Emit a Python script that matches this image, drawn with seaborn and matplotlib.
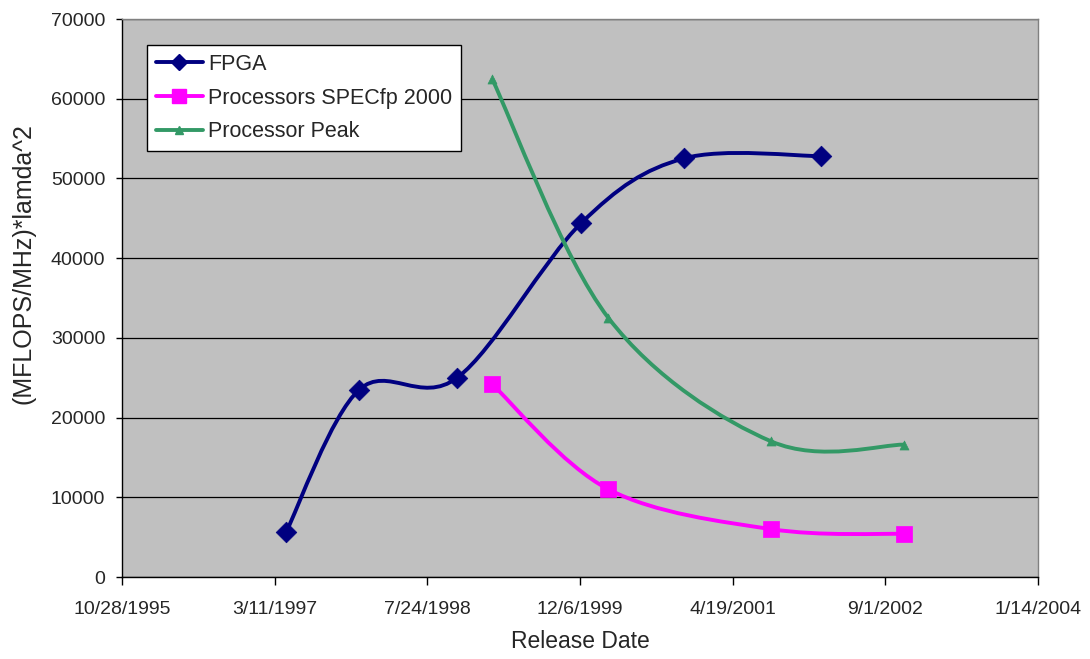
import numpy as np
import pandas as pd
import matplotlib
matplotlib.use("Agg")
import matplotlib.pyplot as plt
import matplotlib.dates as mdates
from matplotlib.path import Path
from matplotlib.patches import PathPatch
from matplotlib.lines import Line2D
import seaborn as sns

# values
fpga_dates = ["1997-04-17", "1997-12-13", "1998-10-30", "1999-12-10", "2000-11-09", "2002-02-01"]
fpga_vals = [5600, 23500, 25000, 44400, 52500, 52800]
proc_dates = ["1999-02-21", "2000-03-08", "2001-08-24", "2002-11-01"]
specfp_vals = [24200, 11000, 6000, 5400]
peak_vals = [62500, 32500, 17000, 16600]
x_tick_labels = ["10/28/1995", "3/11/1997", "7/24/1998", "12/6/1999", "4/19/2001", "9/1/2002", "1/14/2004"]
y_ticks = [0, 10000, 20000, 30000, 40000, 50000, 60000, 70000]

sns.set_style("white")
plt.rcParams["font.family"] = ["Liberation Sans", "DejaVu Sans"]

fig = plt.figure(figsize=(10.9, 6.59), dpi=100)
ax = fig.add_axes([122 / 1090, 1 - 577 / 659, 916 / 1090, 558 / 659])
ax.set_facecolor("#C0C0C0")


def smooth_path(xs, ys):
    # Excel style smoothed line: Catmull-Rom segments as cubic beziers
    pts = np.column_stack([xs, ys]).astype(float)
    verts = [pts[0]]
    codes = [Path.MOVETO]
    n = len(pts)
    for i in range(n - 1):
        p0 = pts[max(i - 1, 0)]
        p1 = pts[i]
        p2 = pts[i + 1]
        p3 = pts[min(i + 2, n - 1)]
        c1 = p1 + (p2 - p0) / 6
        c2 = p2 - (p3 - p1) / 6
        verts += [c1, c2, p2]
        codes += [Path.CURVE4] * 3
    return Path(verts, codes)


series = [
    ("FPGA", fpga_dates, fpga_vals, "#000080", "D", 10.5),
    ("Processors SPECfp 2000", proc_dates, specfp_vals, "#FF00FF", "s", 12),
    ("Processor Peak", proc_dates, peak_vals, "#339966", "^", 6.5),
]

handles = []
for name, dates, vals, color, marker, ms in series:
    xnum = mdates.date2num(pd.to_datetime(dates))
    ax.add_patch(PathPatch(smooth_path(xnum, vals), facecolor="none",
                           edgecolor=color, lw=2.8, zorder=3))
    df = pd.DataFrame({"x": xnum, "y": vals})
    sns.scatterplot(data=df, x="x", y="y", ax=ax, marker=marker, s=ms ** 2,
                    color=color, edgecolor=color, linewidth=0.5, zorder=4, legend=False)
    handles.append(Line2D([0], [0], color=color, lw=2.8, marker=marker,
                          markersize=ms * 0.8, markeredgecolor=color, label=name))

xticks = mdates.date2num(pd.to_datetime(x_tick_labels, format="%m/%d/%Y"))
ax.set_xlim(xticks[0], xticks[-1])
ax.set_ylim(0, 70000)
ax.set_xticks(xticks)
ax.set_xticklabels(x_tick_labels)
ax.set_yticks(y_ticks)
ax.set_yticklabels([str(v) for v in y_ticks])
ax.tick_params(axis="x", direction="out", length=6, width=1, color="black",
               labelsize=14, pad=11, bottom=True)
ax.tick_params(axis="y", direction="out", length=4, width=1, color="black",
               labelsize=14, pad=8, left=True)
ax.grid(axis="y", color="black", lw=0.9)
ax.set_axisbelow(True)

for s in ["left", "bottom"]:
    ax.spines[s].set_color("black")
    ax.spines[s].set_linewidth(1)
for s in ["top", "right"]:
    ax.spines[s].set_color("#808080")
    ax.spines[s].set_linewidth(1)

ax.set_xlabel("Release Date", fontsize=16.5, labelpad=9)
ax.set_ylabel("")
fig.text(24 / 1090, 1 - 264 / 659, "(MFLOPS/MHz)*lamda^2", rotation=90,
         ha="center", va="center", fontsize=18)

leg = ax.legend(handles=handles, loc="upper left", bbox_to_anchor=(25 / 916, 1 - 26 / 558),
                frameon=True, fancybox=False, fontsize=15.5, handlelength=2.2,
                handletextpad=0.25, labelspacing=0.6, borderpad=0.4, borderaxespad=0)
leg.get_frame().set_edgecolor("black")
leg.get_frame().set_linewidth(1)
leg.get_frame().set_facecolor("white")
leg.get_frame().set_alpha(1)

fig.savefig("out.png", dpi=100)
